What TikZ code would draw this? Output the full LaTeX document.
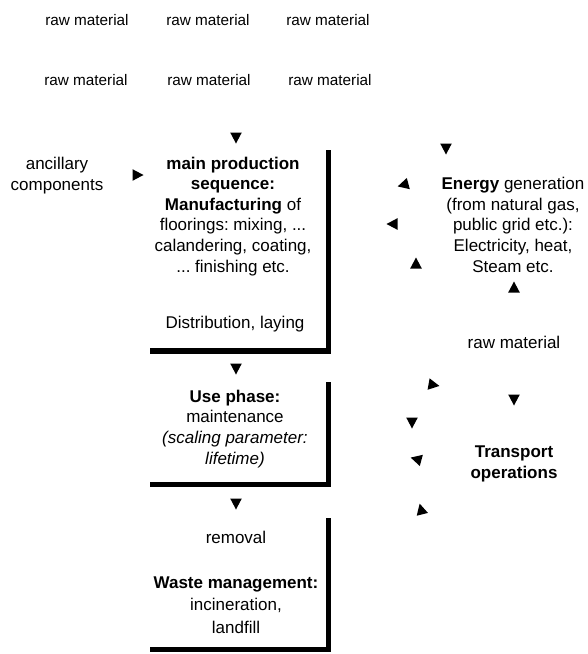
\documentclass[tikz,border=0pt]{standalone}
\usepackage{fontspec}
\setmainfont{Liberation Sans}
\frenchspacing
\tikzset{
  arrowhead/.style={fill=black, draw=none},
  txt/.style={font=\fontsize{17}{20.6}\selectfont, inner sep=0pt, align=center, anchor=base},
  toptxt/.style={font=\fontsize{15.3}{18}\selectfont, inner sep=0pt, anchor=base},
  wall/.style={line width=5.5pt, line join=miter}
}
% #1 name, #2 position, #3 direction angle
\newcommand{\arrtri}[3]{%
  \coordinate (#1) at (#2);
  \fill[arrowhead, shift={(#1)}, rotate=#3] (5.5,0) -- (-5.5,5.8) -- (-5.5,-5.8) -- cycle;}
\begin{document}
\begin{tikzpicture}[x=1pt,y=-1pt]
\useasboundingbox (0,0) rectangle (587,654);
% top rows
\node[toptxt] (r1) at (87,25) {raw material};
\node[toptxt] (r2) at (208,25) {raw material};
\node[toptxt] (r3) at (328,25) {raw material};
\node[toptxt] (r4) at (86,85) {raw material};
\node[toptxt] (r5) at (209,85) {raw material};
\node[toptxt] (r6) at (330,85) {raw material};
% left column
\arrtri{t1}{236,138}{-90}
\node[txt] (anc) at (57,190) {ancillary\\components};
\arrtri{t2}{138,175}{0}
\node[txt] (main) at (233,272) {\textbf{main production}\\\textbf{sequence:}\\\textbf{Manufacturing} of\\floorings: mixing, ...\\calandering, coating,\\... finishing etc.};
\node[txt] (dist) at (235,328) {Distribution, laying};
\draw[wall] (150,351) coordinate (b1l) -- (328.5,351) coordinate (b1c) -- (328.5,150) coordinate (b1t);
\arrtri{t3}{236,369}{-90}
\node[txt] (use) at (235,464) {\textbf{Use phase:}\\maintenance\\\textit{(scaling parameter:}\\\textit{lifetime)}};
\draw[wall] (150,484.5) coordinate (b2l) -- (328.5,484.5) coordinate (b2c) -- (328.5,382) coordinate (b2t);
\arrtri{t4}{236,504}{-90}
\node[txt] (rem) at (236,543) {removal};
\node[txt, font=\fontsize{17}{22.5}\selectfont] (waste) at (236,633) {\textbf{Waste management:}\\incineration,\\landfill};
\draw[wall] (150,649.5) coordinate (b3l) -- (328.5,649.5) coordinate (b3c) -- (328.5,518) coordinate (b3t);
% right column: energy
\arrtri{t5}{446,149}{-90}
\arrtri{t6}{403,185}{195}
\node[txt] (energy) at (513,272) {\textbf{Energy} generation\\(from natural gas,\\public grid etc.):\\Electricity, heat,\\Steam etc.};
\arrtri{t7}{392,224}{180}
\arrtri{t8}{416,263}{90}
\arrtri{t9}{514,287}{90}
\node[txt] (r7) at (514,348) {raw material};
% transport
\arrtri{t10}{434,385}{-10}
\arrtri{t11}{514,400}{-90}
\arrtri{t12}{412,423}{-90}
\arrtri{t13}{416,459}{165}
\node[txt] (trans) at (514,478) {\textbf{Transport}\\\textbf{operations}};
\arrtri{t14}{421,509}{104}
\end{tikzpicture}
\end{document}
